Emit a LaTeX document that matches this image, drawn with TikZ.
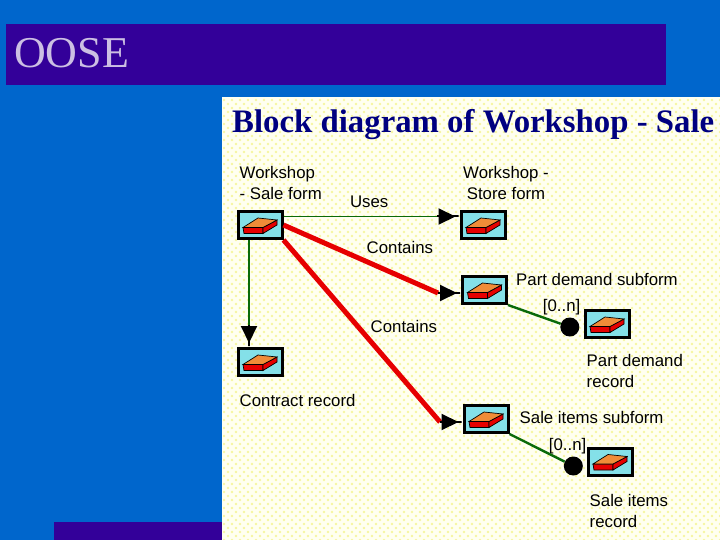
\documentclass[tikz,border=0pt]{standalone}
\usepackage{xcolor}
\usepackage{fontspec}
\setmainfont{Liberation Serif}
\setsansfont{Liberation Sans}
\usetikzlibrary{arrows.meta, positioning, patterns}
\pgfdeclarepatternformonly{paneldots}{\pgfqpoint{-2pt}{-2pt}}{\pgfqpoint{6pt}{6pt}}{\pgfqpoint{8pt}{8pt}}{%
  \pgfpathcircle{\pgfqpoint{0pt}{0pt}}{1.4pt}%
  \pgfpathcircle{\pgfqpoint{4pt}{4pt}}{1.4pt}%
  \pgfusepath{fill}}
\definecolor{slideblue}{HTML}{0066CC}
\definecolor{barviolet}{HTML}{330099}
\definecolor{titlelilac}{HTML}{CCBFE3}
\definecolor{panelpale}{HTML}{FFFFF0}
\definecolor{paneldot}{HTML}{F6F6A0}
\definecolor{linkgreen}{HTML}{0A6A0A}
\definecolor{brickred}{HTML}{E60000}
\definecolor{bricktop}{HTML}{F08C38}
\definecolor{iconcyan}{HTML}{84E0E8}
\begin{document}
\begin{tikzpicture}[
  x=1pt, y=-1pt,
  node distance=35pt and 176pt,
  formbox/.style={rectangle, draw=black, line width=3pt, fill=iconcyan,
             minimum width=44pt, minimum height=27pt, inner sep=0pt,
             path picture={
               \begin{scope}[shift={(path picture bounding box.center)}, line width=0.7pt]
                 \draw[fill=brickred] (-17,2.5) -- (3,2.5) -- (3,8.5) -- (-16,8.5) -- cycle;
                 \draw[fill=brickred] (3,2.5) -- (17,-5) -- (17,0) -- (3,8.5) -- cycle;
                 \draw[fill=bricktop] (-17,2.5) -- (-2,-7) -- (17,-5) -- (3,2.5) -- cycle;
               \end{scope}}},
  lbl/.style={font=\sffamily\fontsize{16.8}{21}\selectfont, inner sep=0pt, align=left},
  dotnode/.style={circle, fill=black, minimum size=19pt, inner sep=0pt},
  uses/.style={draw=linkgreen, line width=1.3pt},
  sublink/.style={draw=linkgreen, line width=2.4pt},
  contains/.style={draw=brickred, line width=5pt},
  arrow/.style={draw=black, line width=2pt,
             -{Triangle[length=17pt, width=16pt]Rectangle[length=4pt, width=2pt]}}
]
\fill[slideblue] (0,0) rectangle (720,540);
\fill[barviolet] (6,24) rectangle (666,85);
\fill[barviolet] (54,522) rectangle (222,540);
\fill[panelpale] (222,97) rectangle (720,540);
\fill[pattern=paneldots, pattern color=paneldot] (223,99) rectangle (720,540);

\node[anchor=base west, inner sep=0pt, text=titlelilac, font=\fontsize{44}{44}\selectfont] (oose) at (14,68) {OOSE};
\node[anchor=base west, inner sep=0pt, text=blue!50!black, font=\bfseries\fontsize{32.8}{33}\selectfont] (title) at (232,133) {Block diagram of Workshop - Sale};

\node[formbox] (sale) at (260,225) {};
\node[formbox, right=of sale] (store) {};
\node[formbox, below right=35pt and 177.5pt of sale] (part) {};
\node[formbox, below=107pt of sale] (contract) {};
\node[formbox, below right=164pt and 179pt of sale] (items) {};
\node[formbox, below right=4pt and 75.5pt of part] (partrec) {};
\node[formbox, below right=12.5pt and 77pt of items] (itemsrec) {};
\node[dotnode, left=4pt of partrec, yshift=-3pt] (partdot) {};
\node[dotnode, left=3.5pt of itemsrec, yshift=-4.5pt] (itemsdot) {};

\node[lbl, above=10pt of sale.north west, anchor=south west, xshift=3pt] (salelbl) {Workshop\\- Sale form};
\node[lbl, align=center, above=10pt of store, xshift=23pt] (storelbl) {Workshop -\\Store form};
\node[lbl, left=71pt of store.north west, anchor=east, yshift=8pt] (useslbl) {Uses};
\node[lbl, right=83pt of sale.east, anchor=west, yshift=-22pt] (cont1lbl) {Contains};
\node[lbl, right=87pt of sale.east, anchor=west, yshift=-101pt] (cont2lbl) {Contains};
\node[lbl, right=8pt of part.north east, anchor=west, yshift=-4pt] (partlbl) {Part demand subform};
\node[lbl, left=3pt of partrec.north west, anchor=east, yshift=2pt] (partn) {[0..n]};
\node[lbl, below=15pt of partrec.south west, anchor=north west, xshift=3pt] (partreclbl) {Part demand\\record};
\node[lbl, below=17pt of contract.south west, anchor=north west, xshift=3pt] (contractlbl) {Contract record};
\node[lbl, right=10pt of items.north east, anchor=west, yshift=-13pt] (itemslbl) {Sale items subform};
\node[lbl, left=0pt of itemsrec.north west, anchor=east, yshift=0pt] (itemsn) {[0..n]};
\node[lbl, below=18pt of itemsrec.south west, anchor=north west, xshift=3pt] (itemsreclbl) {Sale items\\record};

\coordinate (usehead) at (437,216.5);
\coordinate (contracthead) at (249,325);
\coordinate (parthead) at (438,293);
\coordinate (itemshead) at (440,422);

\draw[uses] (sale.east |- usehead) -- (usehead);
\draw[arrow] (usehead) -- (store.west |- usehead);
\draw[uses] (sale.south -| contracthead) -- (contracthead);
\draw[arrow] (contracthead) -- (contract.north -| contracthead);
\draw[contains] (sale.east) -- (parthead);
\draw[arrow] (parthead) -- (part.west |- parthead);
\draw[contains] (sale.south east) -- (itemshead);
\draw[arrow] (itemshead) -- (items.west |- itemshead);
\draw[sublink] (part.south east) -- (partdot);
\draw[sublink] (items.south east) -- (itemsdot);
\end{tikzpicture}
\end{document}
